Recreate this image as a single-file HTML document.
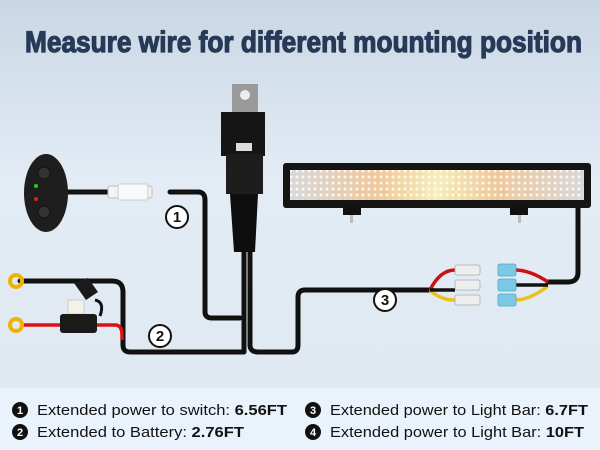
<!DOCTYPE html>
<html><head><meta charset="utf-8"><style>
html,body{margin:0;padding:0;width:600px;height:450px;overflow:hidden}
</style></head><body>
<svg width="600" height="450" viewBox="0 0 600 450" xmlns="http://www.w3.org/2000/svg">
<defs>
<linearGradient id="bg" x1="0" y1="0" x2="0" y2="1">
<stop offset="0" stop-color="#c9d7e4"/><stop offset="0.4" stop-color="#e3ecf5"/><stop offset="1" stop-color="#dfe8f1"/>
</linearGradient>
<linearGradient id="bar" x1="0" y1="0" x2="1" y2="0">
<stop offset="0" stop-color="#d8d8d8"/><stop offset="0.3" stop-color="#f0c89a"/><stop offset="0.5" stop-color="#f5eeb8"/><stop offset="0.7" stop-color="#f0c89a"/><stop offset="1" stop-color="#d8d8d8"/>
</linearGradient>
<pattern id="leds" width="6" height="6" patternUnits="userSpaceOnUse">
<circle cx="3" cy="3" r="1.5" fill="#ffffff" opacity="0.8"/>
</pattern>
</defs>
<rect width="600" height="450" fill="url(#bg)"/>
<rect y="388" width="600" height="62" fill="#eaf3fb"/>
<text x="25" y="52" font-family="Liberation Sans, sans-serif" font-weight="bold" font-size="30" fill="#263a58" stroke="#263a58" stroke-width="1.2" textLength="557" lengthAdjust="spacingAndGlyphs">Measure wire for different mounting position</text>

<!-- wires -->
<g fill="none" stroke="#111" stroke-width="5" stroke-linecap="round" stroke-linejoin="round">
<path d="M170 192 H198 Q205 192 205 200 V312 Q205 318 212 318 H240"/>
<path d="M20 281 H112 Q123 281 123 292 V345 Q123 352 130 352 H244 V250"/>
<path d="M250 250 V345 Q250 352 258 352 H292 Q298 352 298 345 V297 Q298 290 305 290 H432"/>
<path d="M548 282 H568 Q578 282 578 272 V205"/>
<path d="M68 192 H108"/>
</g>
<path d="M20 325 H62 M97 325 H115 Q122 325 122 335 V340" stroke="#d11" stroke-width="3.5" fill="none"/>
<g fill="none" stroke-width="3.5">
<path d="M430 290 Q440 270 455 270" stroke="#c11"/>
<path d="M430 290 Q440 300 455 300" stroke="#e8c21a"/>
<path d="M430 290 H455" stroke="#111"/>
<path d="M515 270 Q530 270 548 282" stroke="#c11"/>
<path d="M515 300 Q530 300 548 286" stroke="#e8c21a"/>
<path d="M515 285 H548" stroke="#111"/>
</g>
<g fill="#eee" stroke="#aaa" stroke-width="0.8">
<rect x="455" y="265" width="25" height="10" rx="2"/>
<rect x="455" y="280" width="25" height="10" rx="2"/>
<rect x="455" y="295" width="25" height="10" rx="2"/>
</g>
<g fill="#7cc9e6" stroke="#4aa8cc" stroke-width="0.8">
<rect x="498" y="264" width="18" height="12" rx="2"/>
<rect x="498" y="279" width="18" height="12" rx="2"/>
<rect x="498" y="294" width="18" height="12" rx="2"/>
</g>
<circle cx="16" cy="281" r="6" fill="none" stroke="#f0b400" stroke-width="4"/>
<circle cx="16" cy="325" r="6" fill="none" stroke="#f0b400" stroke-width="4"/>
<rect x="68" y="300" width="16" height="14" fill="#f4f1e8" stroke="#ccc"/>
<rect x="60" y="314" width="37" height="19" rx="3" fill="#1a1a1a"/>
<path d="M74 283 L88 278 L98 292 L86 300 Z" fill="#1a1a1a"/>
<path d="M95 300 Q105 302 100 316" stroke="#111" stroke-width="3" fill="none"/>
<ellipse cx="46" cy="193" rx="22" ry="39" fill="#1e1e1e"/>
<circle cx="44" cy="173" r="6" fill="#333" stroke="#111"/>
<circle cx="44" cy="212" r="6" fill="#333" stroke="#111"/>
<circle cx="36" cy="186" r="2" fill="#2c2"/>
<circle cx="36" cy="199" r="2" fill="#d22"/>
<rect x="108" y="186" width="44" height="12" rx="2" fill="#f2f4f6" stroke="#bbb"/>
<rect x="118" y="184" width="30" height="16" rx="2" fill="#f7f9fb" stroke="#ccc"/>
<rect x="232" y="84" width="26" height="36" fill="#9a9a9a"/>
<circle cx="245" cy="95" r="5" fill="#e8eef4"/>
<rect x="221" y="112" width="44" height="44" fill="#151515"/>
<rect x="236" y="143" width="16" height="8" fill="#ddd"/>
<rect x="226" y="154" width="37" height="40" fill="#1d1d1d"/>
<path d="M230 194 L258 194 L255 252 L234 252 Z" fill="#0e0e0e"/>
<rect x="283" y="163" width="308" height="45" rx="3" fill="#151515"/>
<rect x="290" y="170" width="294" height="30" fill="url(#bar)"/>
<rect x="290" y="170" width="294" height="30" fill="url(#leds)"/>
<rect x="343" y="207" width="18" height="8" fill="#111"/>
<rect x="510" y="207" width="18" height="8" fill="#111"/>
<rect x="350" y="215" width="3" height="8" fill="#bbb"/>
<rect x="518" y="215" width="3" height="8" fill="#bbb"/>
<g font-family="Liberation Sans, sans-serif" font-weight="bold" font-size="15" text-anchor="middle" fill="#111">
<circle cx="177" cy="217" r="11" fill="#fff" stroke="#111" stroke-width="2"/><text x="177" y="222">1</text>
<circle cx="160" cy="336" r="11" fill="#fff" stroke="#111" stroke-width="2"/><text x="160" y="341">2</text>
<circle cx="385" cy="300" r="11" fill="#fff" stroke="#111" stroke-width="2"/><text x="385" y="305">3</text>
</g>
<g font-family="Liberation Sans, sans-serif" font-size="15" fill="#111">
<g font-weight="bold" font-size="11" text-anchor="middle">
<circle cx="20" cy="410" r="8" fill="#111"/><text x="20" y="414" fill="#fff">1</text>
<circle cx="20" cy="432" r="8" fill="#111"/><text x="20" y="436" fill="#fff">2</text>
<circle cx="313" cy="410" r="8" fill="#111"/><text x="313" y="414" fill="#fff">3</text>
<circle cx="313" cy="432" r="8" fill="#111"/><text x="313" y="436" fill="#fff">4</text>
</g>
<text x="37" y="415" textLength="250" lengthAdjust="spacingAndGlyphs">Extended power to switch: <tspan font-weight="bold">6.56FT</tspan></text>
<text x="37" y="437" textLength="207" lengthAdjust="spacingAndGlyphs">Extended to Battery: <tspan font-weight="bold">2.76FT</tspan></text>
<text x="330" y="415" textLength="258" lengthAdjust="spacingAndGlyphs">Extended power to Light Bar: <tspan font-weight="bold">6.7FT</tspan></text>
<text x="330" y="437" textLength="254" lengthAdjust="spacingAndGlyphs">Extended power to Light Bar: <tspan font-weight="bold">10FT</tspan></text>
</g>
</svg>
</body></html>
